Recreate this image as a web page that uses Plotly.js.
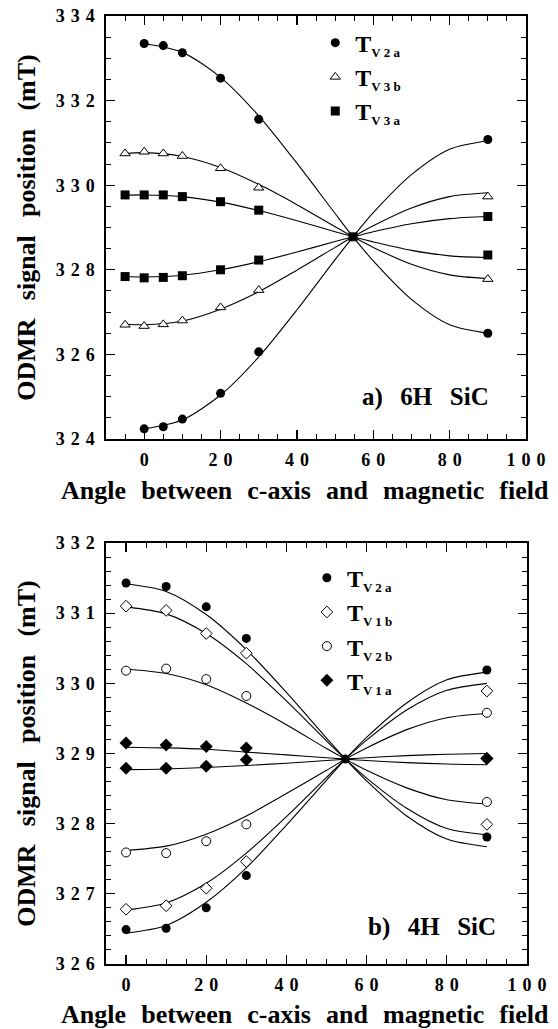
<!DOCTYPE html>
<html><head><meta charset="utf-8">
<script src="https://cdn.plot.ly/plotly-3.0.1.min.js"></script>
<style>html,body{margin:0;padding:0;background:#fff}</style>
</head><body><div id="chart" style="width:558px;height:1029px"></div>
<script>
// ---------- panel a) 6H SiC : measured points ----------
const topAnglesV2 = [0, 5, 10, 20, 30, 90];
const topAngles = [-5, 0, 5, 10, 20, 30, 90];
const topTV2aHigh = [333.35, 333.30, 333.13, 332.53, 331.56, 326.50];
const topTV2aLow  = [324.24, 324.29, 324.47, 325.08, 326.06, 331.08];
const topTV3bHigh = [330.75, 330.79, 330.75, 330.69, 330.40, 329.94, 327.78];
const topTV3bLow  = [326.70, 326.67, 326.71, 326.80, 327.11, 327.52, 329.73];
const topTV3aHigh = [329.77, 329.77, 329.77, 329.73, 329.61, 329.41, 328.35];
const topTV3aLow  = [327.84, 327.81, 327.82, 327.86, 328.00, 328.23, 329.26];
const magicAngle = 54.7;
const topCenter = 328.78;

// ---------- panel a) fitted curves (read off the picture) ----------
const topLineAnglesV2 = [0, 10, 20, 30, 40, 50, 54.7, 60, 70, 80, 90];
const topLineAngles = [-5, 0, 10, 20, 30, 40, 50, 54.7, 60, 70, 80, 90];
const topFitTV2aHigh = [333.35, 333.14, 332.55, 331.64, 330.52, 329.33, 328.78, 328.21, 327.30, 326.70, 326.50];
const topFitTV2aLow  = [324.24, 324.45, 325.04, 325.94, 327.05, 328.24, 328.78, 329.35, 330.25, 330.85, 331.05];
const topFitTV3bHigh = [330.75, 330.77, 330.68, 330.42, 330.02, 329.54, 329.02, 328.78, 328.53, 328.13, 327.88, 327.79];
const topFitTV3bLow  = [326.72, 326.70, 326.79, 327.07, 327.48, 327.99, 328.53, 328.78, 329.04, 329.46, 329.73, 329.82];
const topFitTV3aHigh = [329.76, 329.77, 329.73, 329.60, 329.40, 329.16, 328.90, 328.78, 328.66, 328.46, 328.33, 328.29];
const topFitTV3aLow  = [327.84, 327.83, 327.87, 328.00, 328.19, 328.42, 328.67, 328.78, 328.90, 329.09, 329.21, 329.26];

// ---------- panel b) 4H SiC : measured points ----------
const botAngles = [0, 10, 20, 30, 90];
const botTV2aHigh = [331.43, 331.38, 331.09, 330.64, 327.81];
const botTV2aLow  = [326.49, 326.51, 326.80, 327.26, 330.19];
const botTV1bHigh = [331.10, 331.04, 330.71, 330.43, 327.99];
const botTV1bLow  = [326.78, 326.83, 327.08, 327.46, 329.89];
const botTV2bHigh = [330.18, 330.21, 330.06, 329.82, 328.31];
const botTV2bLow  = [327.59, 327.58, 327.75, 327.99, 329.58];
const botTV1aHigh = [329.15, 329.12, 329.10, 329.08, 328.93];
const botTV1aLow  = [328.79, 328.79, 328.82, 328.91, 328.93];
const botCenter = 328.92;

// ---------- panel b) fitted curves (read off the picture) ----------
const botLineAngles = [0, 10, 20, 30, 40, 50, 54.7, 60, 70, 80, 90];
const botFitTV2aHigh = [331.42, 331.31, 330.98, 330.48, 329.87, 329.22, 328.92, 328.61, 328.11, 327.78, 327.67];
const botFitTV2aLow  = [326.44, 326.55, 326.88, 327.37, 327.98, 328.62, 328.92, 329.23, 329.72, 330.05, 330.16];
const botFitTV1bHigh = [331.09, 330.99, 330.71, 330.28, 329.75, 329.18, 328.92, 328.65, 328.22, 327.93, 327.84];
const botFitTV1bLow  = [326.77, 326.87, 327.15, 327.58, 328.10, 328.66, 328.92, 329.19, 329.62, 329.90, 330.00];
const botFitTV2bHigh = [330.20, 330.14, 329.98, 329.72, 329.41, 329.07, 328.92, 328.76, 328.51, 328.34, 328.28];
const botFitTV2bLow  = [327.62, 327.68, 327.85, 328.11, 328.43, 328.76, 328.92, 329.08, 329.34, 329.51, 329.57];
const botFitTV1aHigh = [329.09, 329.08, 329.06, 329.02, 328.98, 328.94, 328.92, 328.90, 328.87, 328.85, 328.84];
const botFitTV1aLow  = [328.77, 328.78, 328.80, 328.83, 328.86, 328.90, 328.92, 328.94, 328.97, 328.99, 329.00];

// ---------- ticks & labels ----------
const xTicks = [0, 20, 40, 60, 80, 100];
const topYTicks = [324, 326, 328, 330, 332, 334];
const botYTicks = [326, 327, 328, 329, 330, 331, 332];
const xTitle = 'Angle between c-axis and magnetic field';
const yTitle = 'ODMR signal position (mT)';
const topLegendNames = ['V2a', 'V3b', 'V3a'];
const botLegendNames = ['V2a', 'V1b', 'V2b', 'V1a'];
const topPanelLabel = 'a) 6H SiC';
const botPanelLabel = 'b) 4H SiC';

const SERIF = 'Liberation Serif';
const spaced = v => String(v).split('').join('\u2004');
const wide = s => s.split(' ').join('\u2002\u2009');
const wideX = s => s.split(' ').join('\u2002\u200A');
const legName = s => 'T<sub><span style="font-size:13px">' + s.split('').join(' ') + '</span></sub>';

function fitLine(x, y, xa, ya) {
  return {x: x, y: y, xaxis: xa, yaxis: ya, mode: 'lines', showlegend: false, hoverinfo: 'skip',
          line: {color: '#000', width: 1.1, shape: 'spline', smoothing: 0.8}};
}
function pts(x, y, xa, ya, name, marker, legend) {
  return {x: x, y: y, xaxis: xa, yaxis: ya, mode: 'markers', name: name, legend: legend,
          marker: marker};
}
const filledCircle = {symbol: 'circle', size: 9, color: '#000'};
const whiteTriangle = {symbol: 'triangle-up', size: 9, color: '#fff', line: {color: '#000', width: 1}};
const filledSquare = {symbol: 'square', size: 9, color: '#000'};
const whiteDiamond = {symbol: 'diamond', size: 9, color: '#fff', line: {color: '#000', width: 1}};
const whiteCircle = {symbol: 'circle', size: 9, color: '#fff', line: {color: '#000', width: 1}};
const filledDiamond = {symbol: 'diamond', size: 10, color: '#000'};

const traces = [
  fitLine(topLineAnglesV2, topFitTV2aHigh, 'x', 'y'),
  fitLine(topLineAnglesV2, topFitTV2aLow, 'x', 'y'),
  fitLine(topLineAngles, topFitTV3bHigh, 'x', 'y'),
  fitLine(topLineAngles, topFitTV3bLow, 'x', 'y'),
  fitLine(topLineAngles, topFitTV3aHigh, 'x', 'y'),
  fitLine(topLineAngles, topFitTV3aLow, 'x', 'y'),
  pts(topAnglesV2.concat(topAnglesV2), topTV2aHigh.concat(topTV2aLow), 'x', 'y', legName(topLegendNames[0]), filledCircle, 'legend'),
  pts(topAngles.concat(topAngles), topTV3bHigh.concat(topTV3bLow), 'x', 'y', legName(topLegendNames[1]), whiteTriangle, 'legend'),
  pts(topAngles.concat(topAngles, [magicAngle]), topTV3aHigh.concat(topTV3aLow, [topCenter]), 'x', 'y', legName(topLegendNames[2]), filledSquare, 'legend'),

  fitLine(botLineAngles, botFitTV2aHigh, 'x2', 'y2'),
  fitLine(botLineAngles, botFitTV2aLow, 'x2', 'y2'),
  fitLine(botLineAngles, botFitTV1bHigh, 'x2', 'y2'),
  fitLine(botLineAngles, botFitTV1bLow, 'x2', 'y2'),
  fitLine(botLineAngles, botFitTV2bHigh, 'x2', 'y2'),
  fitLine(botLineAngles, botFitTV2bLow, 'x2', 'y2'),
  fitLine(botLineAngles, botFitTV1aHigh, 'x2', 'y2'),
  fitLine(botLineAngles, botFitTV1aLow, 'x2', 'y2'),
  pts(botAngles.concat(botAngles, [magicAngle]), botTV2aHigh.concat(botTV2aLow, [botCenter]), 'x2', 'y2', legName(botLegendNames[0]), filledCircle, 'legend2'),
  pts(botAngles.concat(botAngles), botTV1bHigh.concat(botTV1bLow), 'x2', 'y2', legName(botLegendNames[1]), whiteDiamond, 'legend2'),
  pts(botAngles.concat(botAngles), botTV2bHigh.concat(botTV2bLow), 'x2', 'y2', legName(botLegendNames[2]), whiteCircle, 'legend2'),
  pts(botAngles.concat(botAngles), botTV1aHigh.concat(botTV1aLow), 'x2', 'y2', legName(botLegendNames[3]), filledDiamond, 'legend2'),
];

const tickFont = {family: SERIF, size: 18, weight: 'bold', color: '#000'};
const titleFont = {family: SERIF, size: 26, weight: 'bold', color: '#000'};
function xAxis(dom, range, anchor) {
  return {domain: dom, range: range, anchor: anchor, tickvals: xTicks, ticktext: xTicks.map(spaced),
    ticks: 'inside', ticklen: 9, tickwidth: 1.2, tickcolor: '#000', ticklabelstandoff: 4,
    minor: {dtick: 5, ticks: 'inside', ticklen: 5, tickwidth: 1, tickcolor: '#000'},
    showline: true, linecolor: '#000', linewidth: 1.6, mirror: 'allticks', showgrid: false, zeroline: false,
    tickfont: tickFont};
}
function yAxis(dom, range, anchor, tv, dminor) {
  return {domain: dom, range: range, anchor: anchor, tickvals: tv, ticktext: tv.map(spaced),
    ticks: 'inside', ticklen: 9, tickwidth: 1.2, tickcolor: '#000', ticklabelstandoff: 6,
    minor: {dtick: dminor, ticks: 'inside', ticklen: 5, tickwidth: 1, tickcolor: '#000'},
    showline: true, linecolor: '#000', linewidth: 1.6, mirror: 'allticks', showgrid: false, zeroline: false,
    tickfont: tickFont, title: {text: wide(yTitle), font: titleFont, standoff: 12}};
}
const legFont = {family: SERIF, size: 24, weight: 'bold', color: '#000'};

const layout = {
  width: 558, height: 1029, margin: {l: 0, r: 0, t: 0, b: 0},
  paper_bgcolor: '#fff', plot_bgcolor: '#fff',
  xaxis: xAxis([106/558, 526/558], [-10, 100], 'y'),
  yaxis: yAxis([(1029-439)/1029, (1029-16)/1029], [324, 334], 'x', topYTicks, 0.5),
  xaxis2: xAxis([106/558, 527/558], [-5, 100], 'y2'),
  yaxis2: yAxis([(1029-964)/1029, (1029-543)/1029], [326, 332], 'x2', botYTicks, 0.2),
  legend: {x: 0.565, y: 0.980, xanchor: 'left', yanchor: 'top', bgcolor: 'rgba(0,0,0,0)', font: legFont, itemwidth: 30, tracegroupgap: 0},
  legend2: {x: 0.55, y: 0.460, xanchor: 'left', yanchor: 'top', bgcolor: 'rgba(0,0,0,0)', font: legFont, itemwidth: 30, tracegroupgap: 0},
  annotations: [
    {text: wideX(xTitle), xref: 'paper', yref: 'paper', x: 305/558, y: 1 - 490/1029, xanchor: 'center', yanchor: 'middle', showarrow: false, font: titleFont},
    {text: wideX(xTitle), xref: 'paper', yref: 'paper', x: 305/558, y: 1 - 1014/1029, xanchor: 'center', yanchor: 'middle', showarrow: false, font: titleFont},
    {text: wide(topPanelLabel), xref: 'x domain', yref: 'y domain', x: 0.917, y: 0.099, xanchor: 'right', yanchor: 'middle', showarrow: false, font: {family: SERIF, size: 25, weight: 'bold', color: '#000'}},
    {text: wide(botPanelLabel), xref: 'x2 domain', yref: 'y2 domain', x: 0.931, y: 0.088, xanchor: 'right', yanchor: 'middle', showarrow: false, font: {family: SERIF, size: 25, weight: 'bold', color: '#000'}}
  ],
  showlegend: true
};
Plotly.newPlot('chart', traces, layout, {staticPlot: true, displayModeBar: false});
</script></body></html>
